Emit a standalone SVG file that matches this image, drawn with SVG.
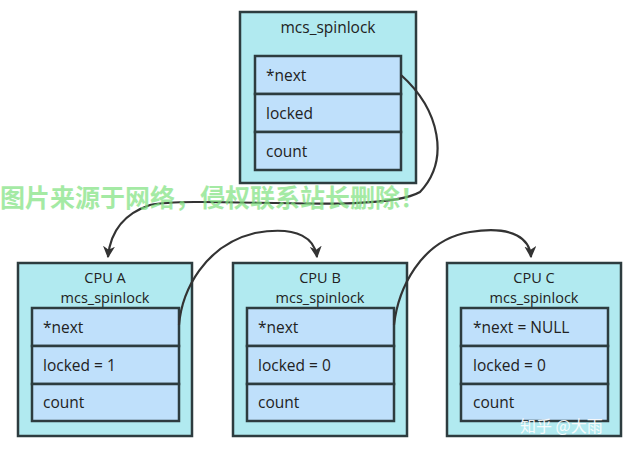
<svg xmlns="http://www.w3.org/2000/svg" width="637" height="452" viewBox="0 0 637 452">
<style>
.outer{fill:#b1eaf0;stroke:#2d3c3f;stroke-width:2.5}
.field{fill:#bfe0fb;stroke:#2d3c3f;stroke-width:2.5}
text{font-family:"Open Sans","Liberation Sans",sans-serif;font-size:15.5px;fill:#222}
.t{text-anchor:middle}
.s{font-size:14.5px}
.c{fill:none;stroke:#333;stroke-width:2.2}
</style>
<defs>
<marker id="a" viewBox="0 0 10 10" refX="9" refY="5" markerWidth="12" markerHeight="12" orient="auto" markerUnits="userSpaceOnUse"><path d="M0,0L10,5L0,10L3,5z" fill="#333"/></marker></defs>
<rect width="637" height="452" fill="#fff"/>
<g id="top"><rect class="outer" x="240" y="12" width="176" height="171"/><text class="t" x="328" y="33">mcs_spinlock</text>
<rect class="field" x="255" y="56" width="146" height="38"/><text x="266" y="81">*next</text>
<rect class="field" x="255" y="94" width="146" height="38"/><text x="266" y="119">locked</text>
<rect class="field" x="255" y="132" width="146" height="38"/><text x="266" y="157">count</text></g>
<g id="cpuA"><rect class="outer" x="18" y="263" width="174" height="173"/><text class="t s" x="105" y="283">CPU A</text><text class="t s" x="105" y="303">mcs_spinlock</text>
<rect class="field" x="32" y="308" width="147" height="38"/><text x="43" y="333">*next</text>
<rect class="field" x="32" y="346" width="147" height="38"/><text x="43" y="371">locked = 1</text>
<rect class="field" x="32" y="384" width="147" height="37"/><text x="43" y="408">count</text></g>
<g id="cpuB"><rect class="outer" x="233" y="263" width="174" height="173"/><text class="t s" x="320" y="283">CPU B</text><text class="t s" x="320" y="303">mcs_spinlock</text>
<rect class="field" x="247" y="308" width="147" height="38"/><text x="258" y="333">*next</text>
<rect class="field" x="247" y="346" width="147" height="38"/><text x="258" y="371">locked = 0</text>
<rect class="field" x="247" y="384" width="147" height="37"/><text x="258" y="408">count</text></g>
<g id="cpuC"><rect class="outer" x="447" y="263" width="174" height="173"/><text class="t s" x="534" y="283">CPU C</text><text class="t s" x="534" y="303">mcs_spinlock</text>
<rect class="field" x="461" y="308" width="147" height="38"/><text x="473" y="333">*next = NULL</text>
<rect class="field" x="461" y="346" width="147" height="38"/><text x="473" y="371">locked = 0</text>
<rect class="field" x="461" y="384" width="147" height="37"/><text x="473" y="408">count</text></g>
<g id="connectors">
<path class="c" marker-end="url(#a)" d="M401,75 C440,110 450,160 420,192 C380,215 200,195 150,205 C120,215 110,235 108,257"/>
<path class="c" marker-end="url(#a)" d="M179,325 C182,290 205,245 255,233 C300,225 315,240 317,257"/>
<path class="c" marker-end="url(#a)" d="M394,325 C398,290 420,240 470,232 C515,225 530,240 531,257"/>
</g>
<text x="0" y="207" style="font-family:'Noto Sans CJK SC',sans-serif;font-size:25px;font-weight:bold;fill:#7ee27e;opacity:0.7">图片来源于网络，侵权联系站长删除！</text>
<text x="520" y="432" style="font-family:'Noto Sans CJK SC',sans-serif;font-size:16px;fill:#fff;opacity:0.9">知乎 @大雨</text>
</svg>
